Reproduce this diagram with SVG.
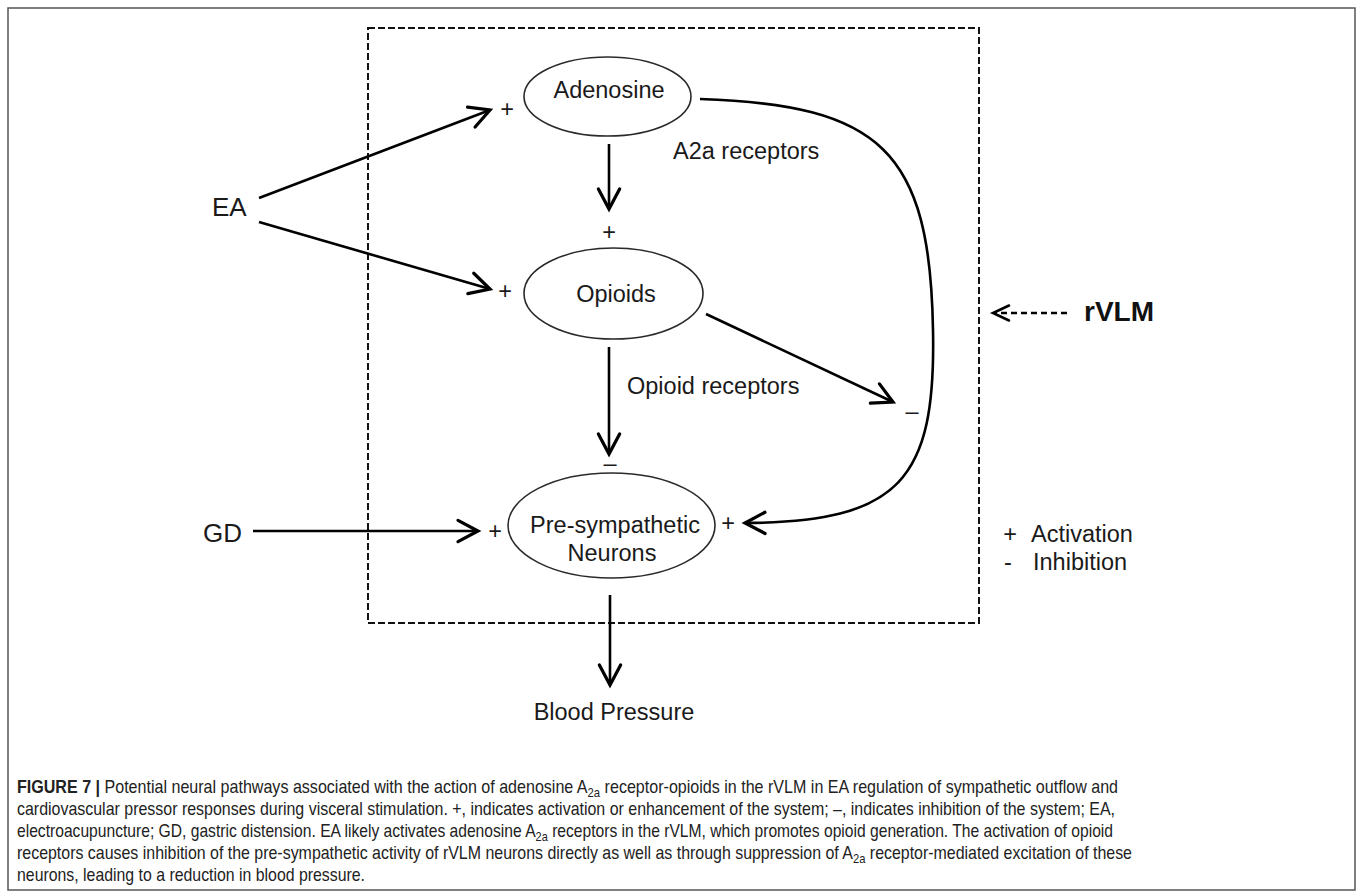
<svg xmlns="http://www.w3.org/2000/svg" width="1358" height="891" viewBox="0 0 1358 891">
<style>
.t{font-family:"Liberation Sans",Arial,sans-serif;font-size:23.5px;fill:#1a1a1a}
.big{font-family:"Liberation Sans",Arial,sans-serif;font-size:26px;fill:#1a1a1a}
.c{text-anchor:middle}
.node{fill:none;stroke:#2a2a2a;stroke-width:1.6}
.edge{fill:none;stroke:#000;stroke-width:2.6;marker-end:url(#ah)}
.cap{font-family:"Liberation Sans Narrow","Liberation Sans",Arial,sans-serif;font-size:18.5px;fill:#222}
.sub{font-size:13px}
</style>
<defs>
<marker id="ah" markerUnits="userSpaceOnUse" markerWidth="30" markerHeight="30" refX="0" refY="0" viewBox="-20 -12 24 24" orient="auto" overflow="visible">
<path d="M-16,-8.5 L0,0 L-16,8.5" fill="none" stroke="#000" stroke-width="2.6" stroke-linecap="round" stroke-linejoin="miter"/>
</marker>
</defs>
<rect x="0" y="0" width="1358" height="891" fill="#fff"/>
<rect id="frame" x="8" y="8" width="1347" height="882" fill="none" stroke="#555" stroke-width="1.5"/>
<rect id="rvlm-box" x="368" y="28" width="611" height="595" fill="none" stroke="#111" stroke-width="2" stroke-dasharray="7,3"/>

<g id="connectors">
<line class="edge" x1="259" y1="198" x2="490" y2="110"/>
<line class="edge" x1="259" y1="222" x2="490" y2="289"/>
<line class="edge" x1="609" y1="144" x2="609" y2="209"/>
<line class="edge" x1="609" y1="347" x2="609" y2="454"/>
<line class="edge" x1="706" y1="314" x2="893" y2="402"/>
<path class="edge" d="M700,99 C880,105 930,150 933,330 C936,480 900,522 745,523"/>
<line class="edge" x1="253" y1="531" x2="478" y2="531"/>
<line class="edge" x1="610" y1="595" x2="610" y2="685"/>
<line x1="1067" y1="313" x2="996" y2="313" stroke="#000" stroke-width="2.6" stroke-dasharray="6,4"/>
<path d="M1009,305.5 L993,313 L1009,320.5" fill="none" stroke="#000" stroke-width="2.6" stroke-linecap="round"/>
</g>

<g id="adenosine">
<ellipse class="node" cx="607.5" cy="96.5" rx="83.5" ry="39.5"/>
<text class="t c" x="609" y="98">Adenosine</text>
</g>
<g id="opioids">
<ellipse class="node" cx="613.5" cy="293.5" rx="89.5" ry="45.5"/>
<text class="t c" x="616" y="302">Opioids</text>
</g>
<g id="pre-sympathetic">
<ellipse class="node" cx="611.5" cy="525.5" rx="103.5" ry="52.5"/>
<text class="t c" x="615" y="533">Pre-sympathetic</text>
<text class="t c" x="612" y="561">Neurons</text>
</g>
<g id="ea"><text class="big" x="212" y="216">EA</text></g>
<g id="gd"><text class="big" x="203" y="542">GD</text></g>
<g id="blood-pressure"><text class="t c" x="614" y="720">Blood Pressure</text></g>
<g id="rvlm"><text x="1084" y="321" style="font-family:'Liberation Sans',Arial,sans-serif;font-size:28px;font-weight:bold;fill:#111">rVLM</text></g>

<g id="labels">
<text class="t" x="673" y="159">A2a receptors</text>
<text class="t" x="627" y="394">Opioid receptors</text>
<text class="t c" x="507" y="117">+</text>
<text class="t c" x="609" y="240">+</text>
<text class="t c" x="505" y="299">+</text>
<text class="t c" x="495" y="539">+</text>
<text class="t c" x="728" y="531">+</text>
<text class="t c" x="610" y="471">–</text>
<text class="t c" x="912" y="419">–</text>
</g>

<g id="legend">
<text class="t c" x="1010" y="542">+</text>
<text class="t" x="1031" y="542">Activation</text>
<text class="t c" x="1008" y="570">-</text>
<text class="t" x="1033" y="570">Inhibition</text>
</g>

<g id="caption">
<text class="cap" x="17" y="793" textLength="1101" lengthAdjust="spacingAndGlyphs"><tspan font-weight="bold">FIGURE 7 |</tspan> Potential neural pathways associated with the action of adenosine A<tspan class="sub" dy="4">2a</tspan><tspan dy="-4"> receptor-opioids in the rVLM in EA regulation of sympathetic outflow and</tspan></text>
<text class="cap" x="17" y="815" textLength="1098" lengthAdjust="spacingAndGlyphs">cardiovascular pressor responses during visceral stimulation. +, indicates activation or enhancement of the system; –, indicates inhibition of the system; EA,</text>
<text class="cap" x="17" y="837" textLength="1096" lengthAdjust="spacingAndGlyphs">electroacupuncture; GD, gastric distension. EA likely activates adenosine A<tspan class="sub" dy="4">2a</tspan><tspan dy="-4"> receptors in the rVLM, which promotes opioid generation. The activation of opioid</tspan></text>
<text class="cap" x="17" y="859" textLength="1115" lengthAdjust="spacingAndGlyphs">receptors causes inhibition of the pre-sympathetic activity of rVLM neurons directly as well as through suppression of A<tspan class="sub" dy="4">2a</tspan><tspan dy="-4"> receptor-mediated excitation of these</tspan></text>
<text class="cap" x="17" y="881" textLength="348" lengthAdjust="spacingAndGlyphs">neurons, leading to a reduction in blood pressure.</text>
</g>
</svg>
